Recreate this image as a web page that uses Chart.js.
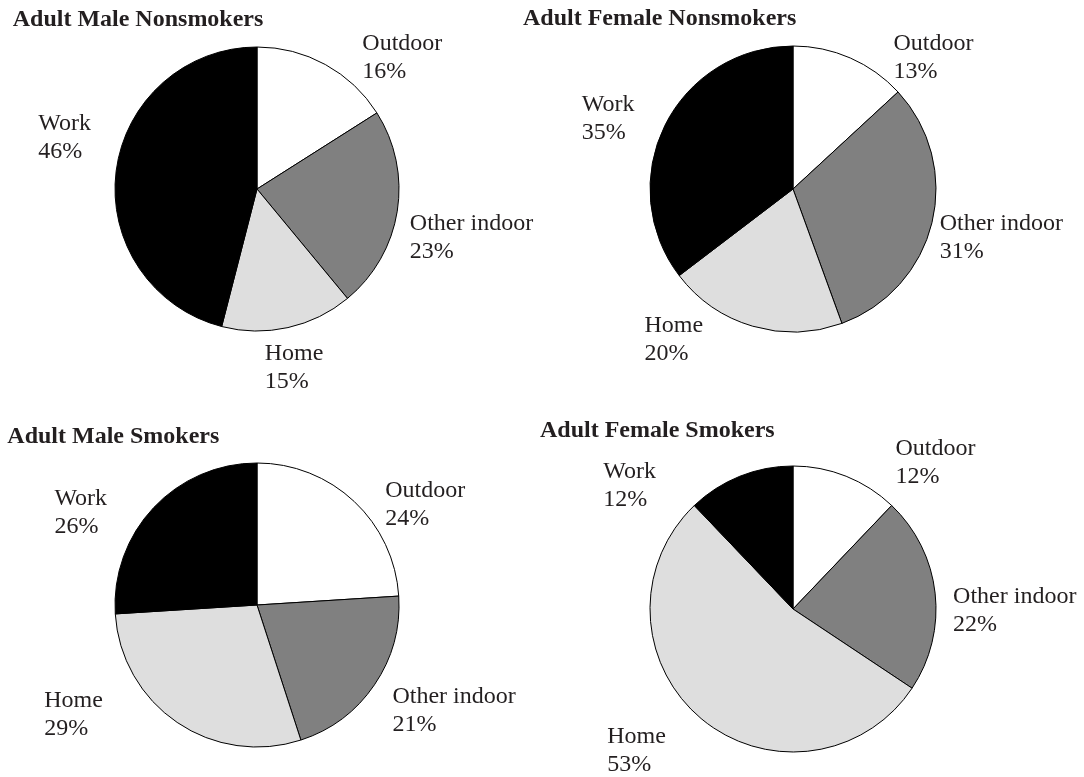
<!DOCTYPE html>
<html>
<head>
<meta charset="utf-8">
<script src="https://cdn.jsdelivr.net/npm/chart.js@4.4.1/dist/chart.umd.min.js"></script>
<style>
  html, body { margin: 0; padding: 0; background: #fff; }
  #wrap { position: relative; width: 1084px; height: 777px; }
  #wrap canvas { position: absolute; left: 0; top: 0; }
</style>
</head>
<body>
<div id="wrap">
  <canvas id="c0" width="1084" height="777"></canvas>
  <canvas id="c1" width="1084" height="777"></canvas>
  <canvas id="c2" width="1084" height="777"></canvas>
  <canvas id="c3" width="1084" height="777"></canvas>
</div>
<script>
const categories = ["Outdoor", "Other indoor", "Home", "Work"];
const chartTitles = ["Adult Male Nonsmokers", "Adult Female Nonsmokers", "Adult Male Smokers", "Adult Female Smokers"];
const maleNonsmokers = [16, 23, 15, 46];
const femaleNonsmokers = [13, 31, 20, 35];
const maleSmokers = [24, 21, 29, 26];
const femaleSmokers = [12, 22, 53, 12];
const sliceColors = ["#ffffff", "#808080", "#dedede", "#000000"];

// where each pie sits on the page, where its title goes, and small label nudges
const panels = [
  { id: "c0", title: chartTitles[0], values: maleNonsmokers, cx: 257, cy: 189, r: 142, tx: 12.7, ty: 26,
    nudge: [[48, 44], [15, 15], [-7, -20], [8, -28]] },
  { id: "c1", title: chartTitles[1], values: femaleNonsmokers, cx: 793, cy: 189, r: 143, tx: 523, ty: 25,
    nudge: [[59, 53], [11, -1], [-62, -46], [-3, 18]] },
  { id: "c2", title: chartTitles[2], values: maleSmokers, cx: 257, cy: 605, r: 142, tx: 7.3, ty: 443,
    nudge: [[30, 45], [30, -10], [-70, -59], [-29, 44]] },
  { id: "c3", title: chartTitles[3], values: femaleSmokers, cx: 793, cy: 609, r: 143, tx: 540, ty: 437,
    nudge: [[67, 40], [20, 23], [-26, -16], [-88, 63]] }
];

const W = 1084, H = 777;
const FONT = '"Liberation Serif", "Times New Roman", serif';
const byId = {};
panels.forEach(p => { byId[p.id] = p; });

const pieText = {
  id: "pieText",
  afterDraw(chart) {
    const panel = byId[chart.canvas.id];
    const ctx = chart.ctx;
    ctx.save();
    ctx.fillStyle = "#231f20";
    ctx.textAlign = "left";
    ctx.textBaseline = "alphabetic";
    ctx.font = "bold 24px " + FONT;
    ctx.fillText(panel.title, panel.tx, panel.ty);
    ctx.font = "24px " + FONT;
    const meta = chart.getDatasetMeta(0);
    meta.data.forEach((arc, i) => {
      const p = arc.getProps(["x", "y", "startAngle", "endAngle", "outerRadius"], true);
      const mid = (p.startAngle + p.endAngle) / 2;
      const d = p.outerRadius + 60;
      const n = panel.nudge[i];
      const bx = p.x + Math.cos(mid) * d + n[0];
      const by = p.y + Math.sin(mid) * d + n[1];
      const l1 = chart.data.labels[i];
      const l2 = chart.data.datasets[0].data[i] + "%";
      const w = Math.max(ctx.measureText(l1).width, ctx.measureText(l2).width);
      const left = bx - w / 2;
      const b1 = by - 6;
      ctx.fillText(l1, left, b1);
      ctx.fillText(l2, left, b1 + 28);
    });
    ctx.restore();
  }
};

panels.forEach(panel => {
  const half = panel.r + 0.5;
  new Chart(document.getElementById(panel.id), {
    type: "pie",
    data: {
      labels: categories,
      datasets: [{
        data: panel.values,
        backgroundColor: sliceColors,
        borderColor: "#000000",
        borderWidth: 1
      }]
    },
    options: {
      responsive: false,
      animation: false,
      devicePixelRatio: 1,
      layout: {
        padding: {
          left: panel.cx - half,
          top: panel.cy - half,
          right: W - (panel.cx + half),
          bottom: H - (panel.cy + half)
        }
      },
      plugins: {
        legend: { display: false },
        tooltip: { enabled: false },
        title: { display: false }
      }
    },
    plugins: [pieText]
  });
});
</script>
</body>
</html>
